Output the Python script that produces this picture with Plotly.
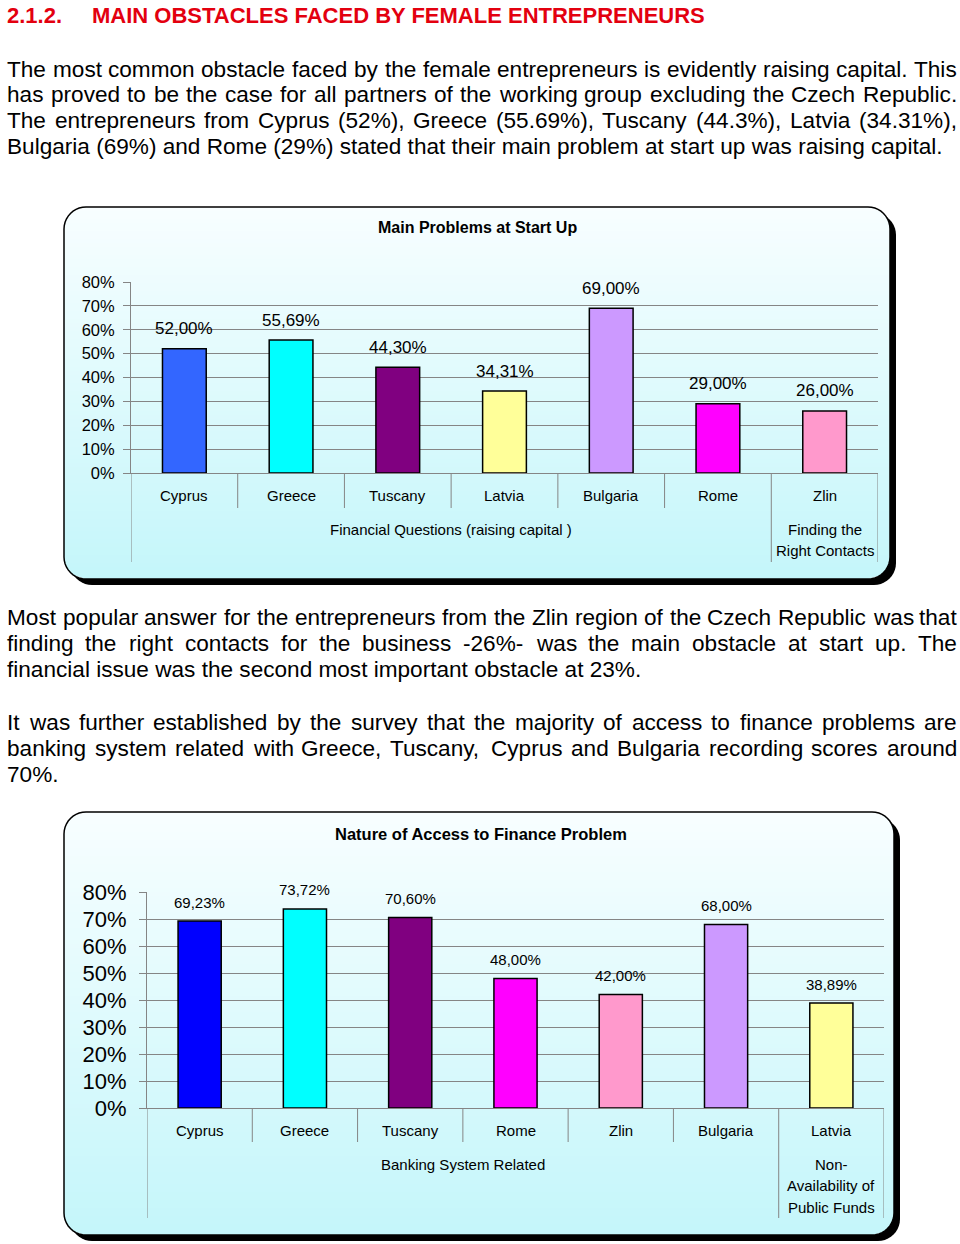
import math
import plotly.graph_objects as go

W, H = 960, 1244
FONT = "Liberation Sans, Arial, Helvetica, sans-serif"

# ---------------- data ----------------
cats1 = ["Cyprus", "Greece", "Tuscany", "Latvia", "Bulgaria", "Rome", "Zlin"]
vals1 = [52.00, 55.69, 44.30, 34.31, 69.00, 29.00, 26.00]
colors1 = ["#3366FF", "#00FFFF", "#800080", "#FFFF99", "#CC99FF", "#FF00FF", "#FF99CC"]
groups1 = [(["Financial Questions (raising capital )"], 0, 5),
           (["Finding the", "Right Contacts"], 6, 6)]
title1 = "Main Problems at Start Up"

cats2 = ["Cyprus", "Greece", "Tuscany", "Rome", "Zlin", "Bulgaria", "Latvia"]
vals2 = [69.23, 73.72, 70.60, 48.00, 42.00, 68.00, 38.89]
colors2 = ["#0000FF", "#00FFFF", "#800080", "#FF00FF", "#FF99CC", "#CC99FF", "#FFFF99"]
groups2 = [(["Banking System Related"], 0, 5),
           (["Non-", "Availability of", "Public Funds"], 6, 6)]
title2 = "Nature of Access to Finance Problem"

y_ticks = [0, 10, 20, 30, 40, 50, 60, 70, 80]

heading_num = "2.1.2."
heading_txt = "MAIN OBSTACLES FACED BY FEMALE ENTREPRENEURS"

para1 = [
    ("The most common obstacle faced by the female entrepreneurs is evidently raising capital. This", True),
    ("has proved to be the case for all partners of the working group excluding the Czech Republic.", True),
    ("The entrepreneurs from Cyprus (52%), Greece (55.69%), Tuscany (44.3%), Latvia (34.31%),", True),
    ("Bulgaria (69%) and Rome (29%) stated that their main problem at start up was raising capital.", False),
]
para2 = [
    ("Most popular answer for the entrepreneurs from the Zlin region of the Czech Republic was that", True),
    ("finding the right contacts for the business -26%- was the main obstacle at start up. The", True),
    ("financial issue was the second most important obstacle at 23%.", False),
]
para3 = [
    ("It was further established by the survey that the majority of access to finance problems are", True),
    ("banking system related with Greece, Tuscany, Cyprus and Bulgaria recording scores around", True),
    ("70%.", False),
]

# ---------------- helpers ----------------
def X(px):
    return px / W


def Y(py):
    return 1 - py / H


CW = {' ': 278, '!': 278, '"': 355, '#': 556, '$': 556, '%': 889, '&': 667, "'": 191,
      '(': 333, ')': 333, '*': 389, '+': 584, ',': 278, '-': 333, '.': 278, '/': 278,
      ':': 278, ';': 278, '?': 556,
      'A': 667, 'B': 667, 'C': 722, 'D': 722, 'E': 667, 'F': 611, 'G': 778, 'H': 722,
      'I': 278, 'J': 500, 'K': 667, 'L': 556, 'M': 833, 'N': 722, 'O': 778, 'P': 667,
      'Q': 778, 'R': 722, 'S': 667, 'T': 611, 'U': 722, 'V': 667, 'W': 944, 'X': 667,
      'Y': 667, 'Z': 611,
      'a': 556, 'b': 556, 'c': 500, 'd': 556, 'e': 556, 'f': 278, 'g': 556, 'h': 556,
      'i': 222, 'j': 222, 'k': 500, 'l': 222, 'm': 833, 'n': 556, 'o': 556, 'p': 556,
      'q': 556, 'r': 333, 's': 500, 't': 278, 'u': 556, 'v': 500, 'w': 722, 'x': 500,
      'y': 500, 'z': 500}
for d in "0123456789":
    CW[d] = 556


def tw(s, size):
    return sum(CW.get(c, 556) for c in s) * size / 1000.0


annotations = []
shapes = []

BODY = 22.6
LEFT, RIGHT = 7, 957


def add_text(txt, xpx, ypx, size, color="black", bold=False, xanchor="left"):
    annotations.append(dict(
        text=txt, x=X(xpx), y=Y(ypx), xref="paper", yref="paper",
        xanchor=xanchor, yanchor="middle", showarrow=False,
        borderpad=0, borderwidth=0,
        font=dict(family=FONT, size=size, color=color, weight="bold" if bold else "normal")))


def add_para(lines, y0, step):
    for k, (line, just) in enumerate(lines):
        ypx = y0 + k * step
        if not just:
            add_text(line, LEFT, ypx, BODY)
            continue
        words = line.split(" ")
        ww = [tw(w, BODY) for w in words]
        gap = (RIGHT - LEFT - sum(ww)) / (len(words) - 1)
        x = LEFT
        for i, (w, wdt) in enumerate(zip(words, ww)):
            if i == len(words) - 1:
                add_text(w, RIGHT, ypx, BODY, xanchor="right")
            else:
                add_text(w, x, ypx, BODY)
            x += wdt + gap


# heading + paragraphs
add_text(heading_num, 7, 16, 22, color="#E3000F", bold=True)
add_text(heading_txt, 92, 16, 22, color="#E3000F", bold=True)
add_para(para1, 69, 26)
add_para(para2, 617, 26)
add_para(para3, 722, 26)


# ---------------- frames ----------------
def inset_at(py, y0, y1, r):
    d = min(py - y0, y1 - py)
    if d >= r:
        return 0.0
    d = max(d, 0.0)
    return r - math.sqrt(max(r * r - (r - d) ** 2, 0.0))


def rounded_path(x0, y0, x1, y1, r, n=10):
    pts = []
    for cx, cy, a0 in [(x1 - r, y0 + r, -90), (x1 - r, y1 - r, 0),
                       (x0 + r, y1 - r, 90), (x0 + r, y0 + r, 180)]:
        for k in range(n + 1):
            a = math.radians(a0 + 90 * k / n)
            pts.append((cx + r * math.cos(a), cy + r * math.sin(a)))
    p = "M " + " L ".join(f"{X(px):.5f},{Y(py):.5f}" for px, py in pts) + " Z"
    return p


def lerp_col(c0, c1, t):
    return "rgb(%d,%d,%d)" % tuple(round(a + (b - a) * t) for a, b in zip(c0, c1))


TOPC = (248, 254, 255)
BOTC = (196, 246, 250)


def add_frame(x0, y0, x1, y1, r=22, off=6):
    shapes.append(dict(type="path", path=rounded_path(x0 + off, y0 + off, x1 + off, y1 + off, r),
                       xref="paper", yref="paper", fillcolor="black", line=dict(width=0), layer="below"))
    shapes.append(dict(type="path", path=rounded_path(x0, y0, x1, y1, r),
                       xref="paper", yref="paper", fillcolor="white", line=dict(width=0), layer="below"))
    step = 4
    py = y0
    while py < y1:
        pb = min(py + step, y1)
        ia = inset_at(py, y0, y1, r)
        t = ((py + pb) / 2 - y0) / (y1 - y0)
        pb2 = min(pb + 0.6, y1)
        ib2 = inset_at(pb2, y0, y1, r)
        path = (f"M {X(x0 + ia):.5f},{Y(py):.5f} L {X(x1 - ia):.5f},{Y(py):.5f} "
                f"L {X(x1 - ib2):.5f},{Y(pb2):.5f} L {X(x0 + ib2):.5f},{Y(pb2):.5f} Z")
        shapes.append(dict(type="path", path=path, xref="paper", yref="paper",
                           fillcolor=lerp_col(TOPC, BOTC, t), line=dict(width=0), layer="below"))
        py = pb
    shapes.append(dict(type="path", path=rounded_path(x0, y0, x1, y1, r),
                       xref="paper", yref="paper", fillcolor="rgba(0,0,0,0)",
                       line=dict(color="black", width=1.5), layer="below"))


add_frame(64, 207, 890, 579)
add_frame(64, 812, 894, 1235)

# ---------------- charts ----------------
GRID = "#858585"
fig = go.Figure()

charts = [
    dict(ax="", cats=cats1, vals=vals1, colors=colors1, groups=groups1, title=title1,
         plot=(131, 282, 878, 473), cat_y=495, short_y=508, long_y=562, grp_y=529, grp_step=21,
         title_xy=(477, 227), title_size=16, tick_size=16.5, val_size=17, yshift=20, standoff=5),
    dict(ax="2", cats=cats2, vals=vals2, colors=colors2, groups=groups2, title=title2,
         plot=(147, 892, 884, 1108), cat_y=1130, short_y=1142, long_y=1218, grp_y=1164, grp_step=21.5,
         title_xy=(481, 834), title_size=16.5, tick_size=22, val_size=15, yshift=19, standoff=8),
]

layout_axes = {}
for c in charts:
    ax = c["ax"]
    l, t, r_, b = c["plot"]
    idx = list(range(len(c["cats"])))
    fig.add_trace(go.Bar(
        x=idx, y=c["vals"], width=0.41,
        marker=dict(color=c["colors"], line=dict(color="black", width=1.5)),
        xaxis="x" + ax, yaxis="y" + ax, showlegend=False, hoverinfo="skip"))
    layout_axes["xaxis" + ax] = dict(
        domain=[X(l), X(r_)], range=[-0.5, len(idx) - 0.5], anchor="y" + ax,
        showticklabels=False, ticks="", showgrid=False, zeroline=False, automargin=False,
        showline=True, linecolor=GRID, linewidth=1, fixedrange=True)
    layout_axes["yaxis" + ax] = dict(
        domain=[Y(b), Y(t)], range=[0, 80], anchor="x" + ax, automargin=False,
        tickvals=y_ticks, ticktext=[f"{v}%" for v in y_ticks],
        showgrid=True, gridcolor=GRID, gridwidth=1, zeroline=False,
        ticks="outside", ticklen=7, tickcolor=GRID, tickwidth=1,
        showline=True, linecolor=GRID, linewidth=1,
        ticklabelstandoff=c["standoff"],
        tickfont=dict(family=FONT, size=c["tick_size"], color="black"), fixedrange=True)
    xr, yr = "x" + ax, "y" + ax
    for i, v in zip(idx, c["vals"]):
        annotations.append(dict(
            text=f"{v:.2f}".replace(".", ",") + "%", x=i, y=v, xref=xr, yref=yr,
            yshift=c["yshift"], xanchor="center", yanchor="middle", showarrow=False,
            font=dict(family=FONT, size=c["val_size"], color="black")))
    for i, name in zip(idx, c["cats"]):
        annotations.append(dict(
            text=name, x=i, y=Y(c["cat_y"]), xref=xr, yref="paper",
            xanchor="center", yanchor="middle", showarrow=False,
            font=dict(family=FONT, size=15, color="black")))
    group_edges = {-0.5}
    for lines, s, e in c["groups"]:
        group_edges.add(e + 0.5)
        for k, ln in enumerate(lines):
            annotations.append(dict(
                text=ln, x=(s + e) / 2, y=Y(c["grp_y"] + k * c["grp_step"]), xref=xr, yref="paper",
                xanchor="center", yanchor="middle", showarrow=False,
                font=dict(family=FONT, size=15, color="black")))
    for k in range(len(idx) + 1):
        pos = k - 0.5
        yb = c["long_y"] if pos in group_edges else c["short_y"]
        shapes.append(dict(type="line", xref=xr, yref="paper", x0=pos, x1=pos,
                           y0=Y(b), y1=Y(yb), line=dict(color=GRID, width=1)))
    tx, ty = c["title_xy"]
    annotations.append(dict(
        text=c["title"], x=X(tx), y=Y(ty), xref="paper", yref="paper",
        xanchor="center", yanchor="middle", showarrow=False,
        font=dict(family=FONT, size=c["title_size"], color="black", weight="bold")))

fig.update_layout(
    width=W, height=H, autosize=False,
    margin=dict(l=0, r=0, t=0, b=0, pad=0, autoexpand=False),
    paper_bgcolor="white", plot_bgcolor="rgba(0,0,0,0)",
    bargap=0.59, showlegend=False,
    annotations=annotations, shapes=shapes, **layout_axes)

fig.write_html("out.html", config={"displayModeBar": False})
